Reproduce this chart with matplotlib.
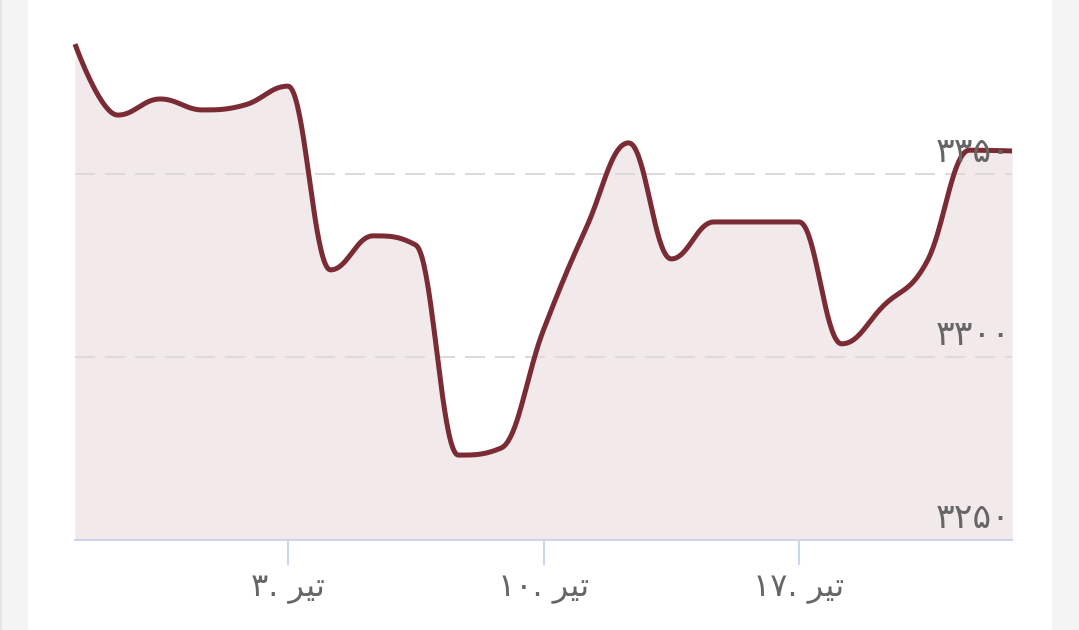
import numpy as np
import matplotlib
matplotlib.use("Agg")
import matplotlib.pyplot as plt
from matplotlib.patches import Rectangle
from matplotlib.transforms import blended_transform_factory

plt.rcParams["font.family"] = ["DejaVu Sans"]
plt.rcParams["lines.scale_dashes"] = False

# daily prices (ordinal trading days)
prices = [3385.5, 3366.1, 3370.5, 3367.5, 3368.9, 3374.0, 3323.8, 3333.1,
          3330.6, 3273.2, 3275.1, 3307.4, 3335.2, 3358.5, 3326.8, 3336.9,
          3336.9, 3336.9, 3303.6, 3314.2, 3326.0, 3356.5, 3356.3]
# tir written in visual order with presentation forms (no shaping in matplotlib)
tir = "\uFEAE\uFEF4\uFE97"
tick_pos = [5, 11, 17]
tick_labels = ["۳. " + tir, "۱۰. " + tir, "۱۷. " + tir]
y_ticks = [3250, 3300, 3350]
y_labels = ["۳۲۵۰", "۳۳۰۰", "۳۳۵۰"]

line_color = "#7a2b33"
fill_color = "#f2e9eb"
text_color = "#666666"


def spline(xs, ys, smoothing=1.5, n=40):
    # highcharts-like spline control points
    m = len(xs)
    lc = [None] * m
    rc = [None] * m
    den = smoothing + 1
    for i in range(1, m - 1):
        px, py = xs[i], ys[i]
        lx, ly = xs[i - 1], ys[i - 1]
        nx, ny = xs[i + 1], ys[i + 1]
        lcx = (smoothing * px + lx) / den
        lcy = (smoothing * py + ly) / den
        rcx = (smoothing * px + nx) / den
        rcy = (smoothing * py + ny) / den
        corr = ((rcy - lcy) * (rcx - px)) / (rcx - lcx) + py - rcy
        lcy += corr
        rcy += corr
        if lcy > ly and lcy > py:
            lcy = max(ly, py)
            rcy = 2 * py - lcy
        elif lcy < ly and lcy < py:
            lcy = min(ly, py)
            rcy = 2 * py - lcy
        if rcy > ny and rcy > py:
            rcy = max(ny, py)
            lcy = 2 * py - rcy
        elif rcy < ny and rcy < py:
            rcy = min(ny, py)
            lcy = 2 * py - rcy
        lc[i] = (lcx, lcy)
        rc[i] = (rcx, rcy)
    outx, outy = [], []
    t = np.linspace(0, 1, n)
    for i in range(m - 1):
        p0 = (xs[i], ys[i])
        p3 = (xs[i + 1], ys[i + 1])
        p1 = rc[i] if rc[i] else p0
        p2 = lc[i + 1] if lc[i + 1] else p3
        bx = (1 - t) ** 3 * p0[0] + 3 * (1 - t) ** 2 * t * p1[0] + 3 * (1 - t) * t ** 2 * p2[0] + t ** 3 * p3[0]
        by = (1 - t) ** 3 * p0[1] + 3 * (1 - t) ** 2 * t * p1[1] + 3 * (1 - t) * t ** 2 * p2[1] + t ** 3 * p3[1]
        outx.extend(bx)
        outy.extend(by)
    return np.array(outx), np.array(outy)


W, H = 1079, 630
fig = plt.figure(figsize=(W / 100, H / 100), dpi=100)
fig.patch.set_facecolor("white")

# side strips of the page
fig.patches.append(Rectangle((0, 0), 28 / W, 1, transform=fig.transFigure,
                             facecolor="#f4f4f4", edgecolor="none", zorder=0))
fig.patches.append(Rectangle((0, 0), 2 / W, 1, transform=fig.transFigure,
                             facecolor="#e4e4e4", edgecolor="none", zorder=0))
fig.patches.append(Rectangle((1052 / W, 0), 27 / W, 1, transform=fig.transFigure,
                             facecolor="#f4f4f4", edgecolor="none", zorder=0))

ylo, yhi = 3250, 3395
top_px = 540 - (yhi - ylo) * 3.66
ax = fig.add_axes([75 / W, (H - 540) / H, (1012 - 75) / W, (540 - top_px) / H])
ax.set_facecolor("none")

x = np.arange(len(prices))
sx, sy = spline(list(x.astype(float)), prices)

ax.fill_between(sx, sy, ylo, color=fill_color, lw=0, zorder=1)
for v in y_ticks[1:]:
    ax.axhline(v, color="#dedadb", lw=2 * 0.72, dashes=(14.4, 7.2), zorder=2)
ax.plot(sx, sy, color=line_color, lw=3.6, solid_capstyle="butt", zorder=3, clip_on=False)

ax.set_xlim(0, len(prices) - 1)
ax.set_ylim(ylo, yhi)

for s in ["top", "left", "right"]:
    ax.spines[s].set_visible(False)
ax.spines["bottom"].set_color("#ccd6eb")
ax.spines["bottom"].set_linewidth(1.5)
ax.spines["bottom"].set_zorder(4)

ax.set_yticks([])
ax.set_xticks(tick_pos)
ax.set_xticklabels(tick_labels, fontsize=23, color=text_color)
ax.tick_params(axis="x", length=18, width=1.5, color="#ccd6eb", pad=6)

tr = blended_transform_factory(ax.transAxes, ax.transData)
for v, lab in zip(y_ticks, y_labels):
    ax.text(0.9985, v + 1.4, lab, transform=tr, ha="right", va="bottom",
            fontsize=25, color=text_color, zorder=6)

fig.savefig("out.png", dpi=100)
